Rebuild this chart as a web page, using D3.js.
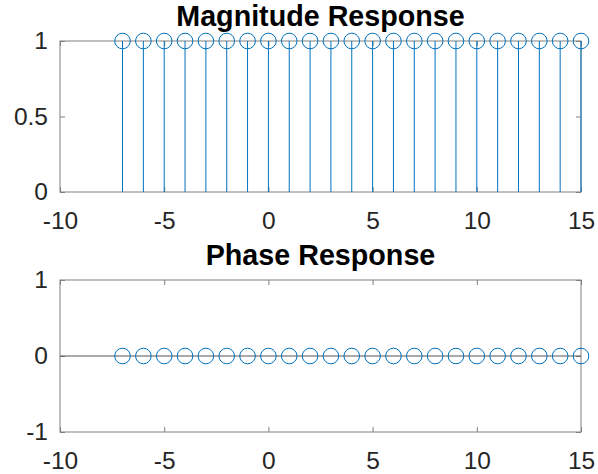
<!DOCTYPE html>
<html>
<head>
<meta charset="utf-8">
<script src="https://d3js.org/d3.v7.min.js"></script>
<style>
  body { margin: 0; background: #fff; }
  svg text { font-family: "Liberation Sans", Arial, sans-serif; }
</style>
</head>
<body>
<div id="chart"></div>
<script>
// sample index
const n = [-7, -6, -5, -4, -3, -2, -1, 0, 1, 2, 3, 4, 5, 6, 7, 8, 9, 10, 11, 12, 13, 14, 15]
// |H| and angle(H)
const magnitude = [1, 1, 1, 1, 1, 1, 1, 1, 1, 1, 1, 1, 1, 1, 1, 1, 1, 1, 1, 1, 1, 1, 1]
const phase = [0, 0, 0, 0, 0, 0, 0, 0, 0, 0, 0, 0, 0, 0, 0, 0, 0, 0, 0, 0, 0, 0, 0]

const xTicks = [-10, -5, 0, 5, 10, 15]
const magTicks = [0, 0.5, 1]
const phaseTicks = [-1, 0, 1]

const W = 598, H = 474
const stemColor = '#0072BD'
const axisColor = '#808080'
const fmt = d => String(d)   // plain hyphen, like matlab

const svg = d3.select('#chart').append('svg')
    .attr('width', W)
    .attr('height', H)

function drawStem(box, values, yDomain, yTicks, title, showBaseline) {
    const x = d3.scaleLinear().domain([-10, 15]).range([box.left, box.right])
    const y = d3.scaleLinear().domain(yDomain).range([box.bottom, box.top])

    const g = svg.append('g')

    // box
    g.append('rect')
        .attr('x', box.left).attr('y', box.top)
        .attr('width', box.right - box.left)
        .attr('height', box.bottom - box.top)
        .attr('fill', 'none')
        .attr('stroke', axisColor)
        .attr('stroke-width', 1)

    const bottomAxis = g.append('g')
        .attr('transform', `translate(0,${box.bottom})`)
        .call(d3.axisBottom(x).tickValues(xTicks).tickSize(-5).tickSizeOuter(0).tickPadding(20).tickFormat(fmt))
    const topAxis = g.append('g')
        .attr('transform', `translate(0,${box.top})`)
        .call(d3.axisTop(x).tickValues(xTicks).tickSize(-5).tickSizeOuter(0).tickFormat(''))
    const leftAxis = g.append('g')
        .attr('transform', `translate(${box.left},0)`)
        .call(d3.axisLeft(y).tickValues(yTicks).tickSize(-5).tickSizeOuter(0).tickPadding(12).tickFormat(fmt))
    const rightAxis = g.append('g')
        .attr('transform', `translate(${box.right},0)`)
        .call(d3.axisRight(y).tickValues(yTicks).tickSize(-5).tickSizeOuter(0).tickFormat(''))

    ;[bottomAxis, topAxis, leftAxis, rightAxis].forEach(a => {
        a.select('.domain').remove()
        a.selectAll('line').attr('stroke', axisColor)
        a.selectAll('text')
            .attr('fill', '#262626')
            .style('font-size', '24.5px')
    })

    if (showBaseline) {
        g.append('line')
            .attr('x1', box.left).attr('x2', box.right)
            .attr('y1', y(0)).attr('y2', y(0))
            .attr('stroke', '#555')
            .attr('stroke-width', 1)
    }

    // stems
    g.selectAll('.stem')
        .data(values)
        .join('line')
        .attr('class', 'stem')
        .attr('x1', (d, i) => x(n[i]))
        .attr('x2', (d, i) => x(n[i]))
        .attr('y1', y(0))
        .attr('y2', d => y(d))
        .attr('stroke', stemColor)
        .attr('stroke-width', 1)

    g.selectAll('.marker')
        .data(values)
        .join('circle')
        .attr('class', 'marker')
        .attr('cx', (d, i) => x(n[i]))
        .attr('cy', d => y(d))
        .attr('r', 7.8)
        .attr('fill', 'none')
        .attr('stroke', stemColor)
        .attr('stroke-width', 1)

    g.append('text')
        .attr('x', (box.left + box.right) / 2)
        .attr('y', box.top - 15)
        .attr('text-anchor', 'middle')
        .style('font-size', '28.7px')
        .style('font-weight', 'bold')
        .attr('fill', '#000')
        .text(title)
}

drawStem({ left: 60, right: 581, top: 41, bottom: 192 }, magnitude, [0, 1], magTicks, 'Magnitude Response', false)
drawStem({ left: 60, right: 581, top: 280, bottom: 432 }, phase, [-1, 1], phaseTicks, 'Phase Response', true)
</script>
</body>
</html>
